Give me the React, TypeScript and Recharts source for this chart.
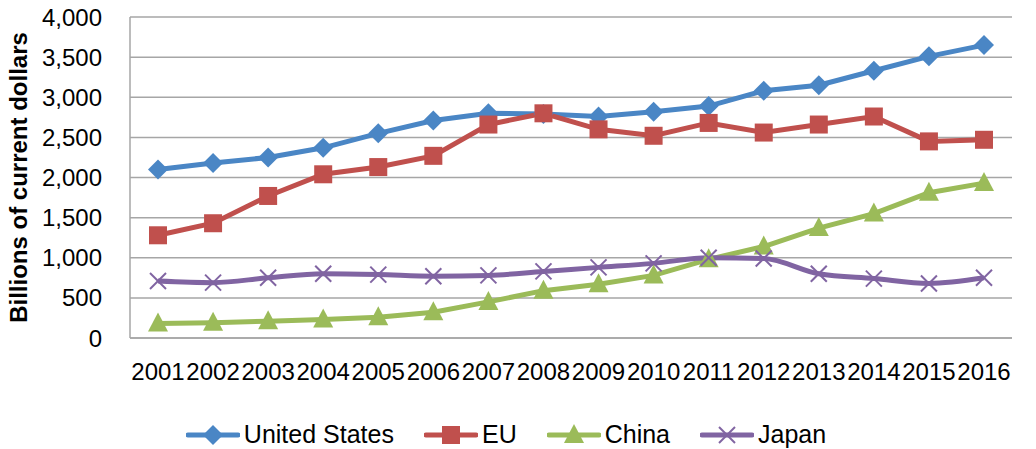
import React from "react"
import { CartesianGrid, Legend, Line, LineChart, XAxis, YAxis } from "recharts"

const years = ["2001", "2002", "2003", "2004", "2005", "2006", "2007", "2008", "2009", "2010", "2011", "2012", "2013", "2014", "2015", "2016"]
const unitedStates = [2100, 2180, 2250, 2370, 2550, 2710, 2800, 2790, 2760, 2820, 2890, 3080, 3150, 3330, 3510, 3650]
const eu = [1280, 1430, 1770, 2040, 2130, 2270, 2660, 2800, 2600, 2520, 2680, 2560, 2660, 2760, 2450, 2470]
const china = [180, 190, 210, 230, 260, 320, 450, 590, 670, 780, 980, 1140, 1370, 1550, 1810, 1930]
const japan = [710, 690, 750, 800, 790, 770, 780, 830, 880, 930, 1000, 990, 800, 740, 680, 750]
const yTicks = [0, 500, 1000, 1500, 2000, 2500, 3000, 3500, 4000]

const data = years.map((year, i) => ({
    year,
    us: unitedStates[i],
    eu: eu[i],
    china: china[i],
    japan: japan[i],
}))

const series = [
    { key: "us", name: "United States", color: "#4a86c5", marker: "diamond" },
    { key: "eu", name: "EU", color: "#c0504d", marker: "square" },
    { key: "china", name: "China", color: "#9bbb59", marker: "triangle" },
    { key: "japan", name: "Japan", color: "#8064a2", marker: "cross" },
]

const FONT = "'Liberation Sans', Arial, sans-serif"

function Marker({ type, x, y, color }: { type: string; x: number; y: number; color: string }) {
    if (type === "diamond") {
        const r = 10
        return <polygon points={`${x},${y - r} ${x + r},${y} ${x},${y + r} ${x - r},${y}`} fill={color} />
    }
    if (type === "square") {
        const r = 9
        return <rect x={x - r} y={y - r} width={r * 2} height={r * 2} fill={color} />
    }
    if (type === "triangle") {
        const r = 10
        return <polygon points={`${x},${y - r - 1} ${x + r},${y + r - 2} ${x - r},${y + r - 2}`} fill={color} />
    }
    const r = 8
    return (
        <g stroke={color} strokeWidth={2}>
            <line x1={x - r} y1={y - r} x2={x + r} y2={y + r} />
            <line x1={x - r} y1={y + r} x2={x + r} y2={y - r} />
        </g>
    )
}

function makeDot(type: string, color: string) {
    return (props: any) => {
        const { cx, cy, index } = props
        if (cx == null || cy == null) return <g key={index} />
        return (
            <g key={index}>
                <Marker type={type} x={cx} y={cy} color={color} />
            </g>
        )
    }
}

function LegendContent() {
    return (
        <div
            style={{
                display: "flex",
                justifyContent: "center",
                alignItems: "center",
                paddingTop: 12,
                fontFamily: FONT,
                fontSize: 25,
                color: "#000",
            }}
        >
            {series.map((s) => (
                <div key={s.key} style={{ display: "flex", alignItems: "center", margin: "0 15px" }}>
                    <svg width={54} height={24} style={{ marginRight: 4 }}>
                        <line x1={2} y1={12} x2={52} y2={12} stroke={s.color} strokeWidth={5} strokeLinecap="round" />
                        <Marker type={s.marker} x={27} y={12} color={s.color} />
                    </svg>
                    <span>{s.name}</span>
                </div>
            ))}
        </div>
    )
}

export default function App() {
    return (
        <div style={{ position: "absolute", left: 0, top: 0, background: "#fff" }}>
            <LineChart width={1036} height={449} data={data} margin={{ top: 17, right: 24, bottom: 0, left: 0 }}>
                <CartesianGrid vertical={false} stroke="#a6a6a6" strokeWidth={1.5} />
                <XAxis
                    dataKey="year"
                    interval={0}
                    height={70}
                    padding={{ left: 28, right: 28 }}
                    axisLine={{ stroke: "#a6a6a6", strokeWidth: 1.5 }}
                    tickLine={false}
                    tickSize={0}
                    tickMargin={25}
                    tick={{ fill: "#000", fontSize: 24, fontFamily: FONT }}
                />
                <YAxis
                    width={130}
                    domain={[0, 4000]}
                    ticks={yTicks}
                    interval={0}
                    tickFormatter={(v: number) => v.toLocaleString("en-US")}
                    axisLine={{ stroke: "#a6a6a6", strokeWidth: 1.5 }}
                    tickLine={false}
                    tickSize={0}
                    tickMargin={28}
                    tick={{ fill: "#000", fontSize: 24, fontFamily: FONT }}
                    label={{
                        value: "Billions of current dollars",
                        angle: -90,
                        position: "insideLeft",
                        offset: 18,
                        style: { textAnchor: "middle", fontSize: 24, fontWeight: "bold", fontFamily: FONT, fill: "#000" },
                    }}
                />
                <Legend verticalAlign="bottom" height={41} content={<LegendContent />} />
                {series.map((s) => (
                    <Line
                        key={s.key}
                        dataKey={s.key}
                        name={s.name}
                        type={s.key === "japan" ? "monotone" : "linear"}
                        stroke={s.color}
                        strokeWidth={5}
                        dot={makeDot(s.marker, s.color)}
                        activeDot={false}
                        isAnimationActive={false}
                    />
                ))}
            </LineChart>
        </div>
    )
}
